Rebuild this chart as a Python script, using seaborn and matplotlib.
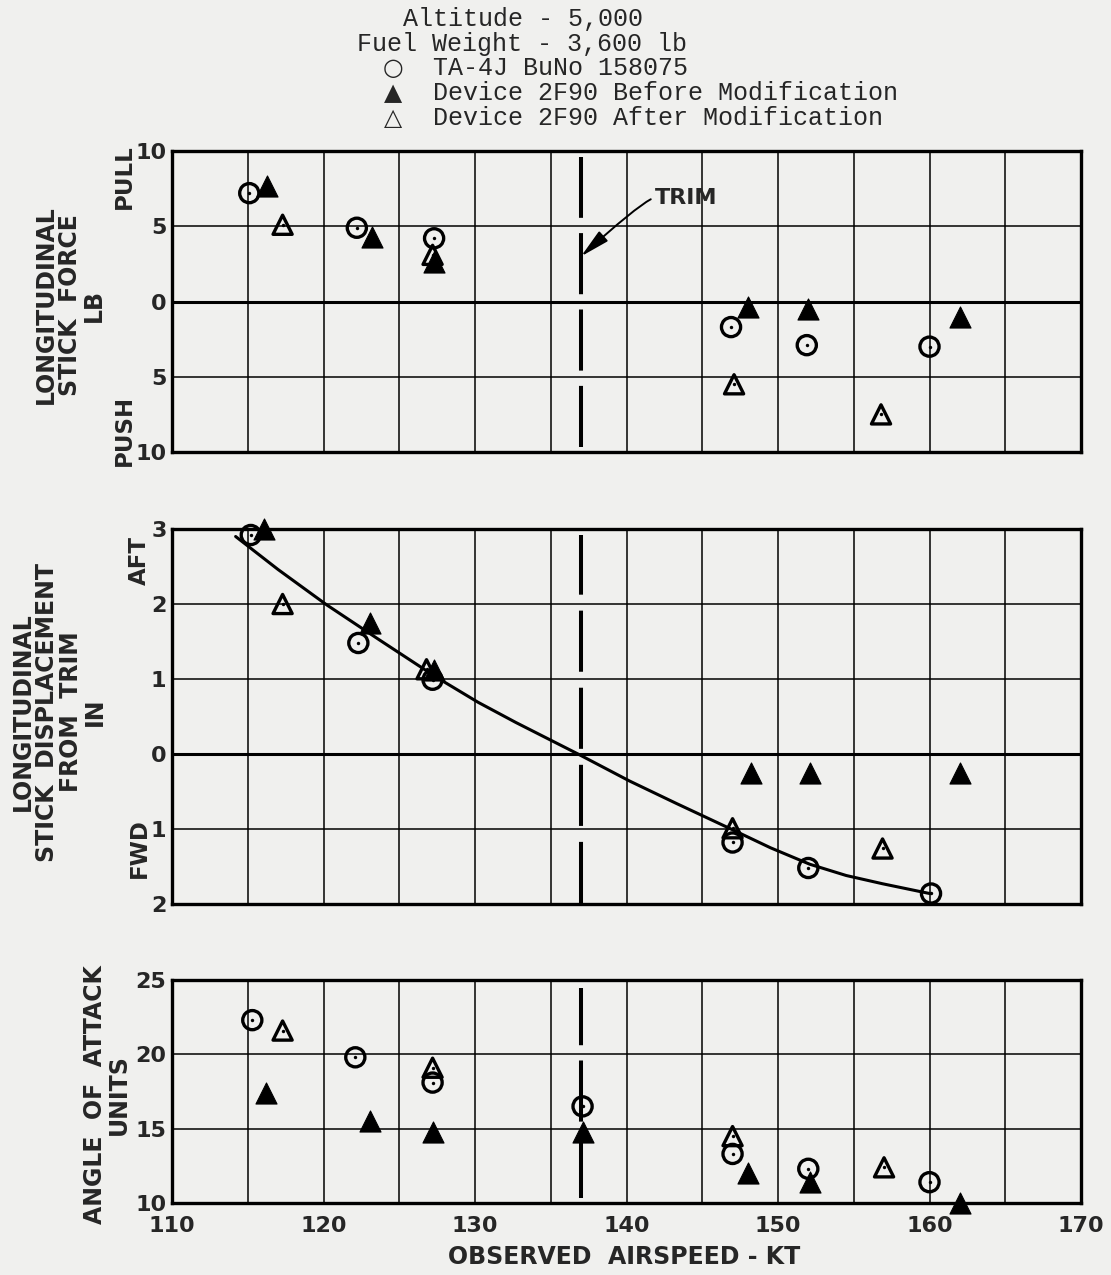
import numpy as np
import matplotlib
matplotlib.use("Agg")
import matplotlib.pyplot as plt
import seaborn as sns

# values (airspeed in kt)
# stick force, lb (+ pull, - push)
force_ta4j_kt = [115.1, 122.2, 127.3, 146.9, 151.9, 160.0]
force_ta4j = [7.2, 4.9, 4.2, -1.7, -2.9, -3.0]
force_before_kt = [116.3, 123.2, 127.3, 148.0, 152.0, 162.0]
force_before = [7.7, 4.3, 2.6, -0.35, -0.5, -1.0]
force_after_kt = [117.3, 127.2, 147.1, 156.8]
force_after = [5.1, 3.1, -5.5, -7.5]

# stick displacement from trim, in (+ aft, - fwd)
disp_ta4j_kt = [115.2, 122.3, 127.2, 147.0, 152.0, 160.1]
disp_ta4j = [2.92, 1.48, 0.99, -1.18, -1.52, -1.86]
disp_before_kt = [116.1, 123.1, 127.3, 148.2, 152.1, 162.0]
disp_before = [3.0, 1.74, 1.12, -0.26, -0.26, -0.26]
disp_after_kt = [117.3, 126.8, 147.0, 156.9]
disp_after = [2.0, 1.13, -0.99, -1.26]
# faired curve through the flight data
fair_kt = [114.2, 117.0, 120.2, 123.7, 127.4, 130.2, 132.7, 136.8, 140.2,
           143.3, 147.0, 149.5, 152.1, 154.5, 156.9, 160.0]
fair_in = [2.9, 2.46, 1.99, 1.52, 1.03, 0.69, 0.42, 0.0, -0.36,
           -0.66, -1.01, -1.25, -1.47, -1.62, -1.73, -1.86]

# angle of attack, units
aoa_ta4j_kt = [115.3, 122.1, 127.2, 137.1, 147.0, 152.0, 160.0]
aoa_ta4j = [22.3, 19.8, 18.1, 16.5, 13.3, 12.3, 11.4]
aoa_before_kt = [116.2, 123.1, 127.2, 137.1, 148.0, 152.1, 162.0]
aoa_before = [17.4, 15.5, 14.8, 14.8, 12.0, 11.4, 10.0]
aoa_after_kt = [117.3, 127.2, 147.0, 157.0]
aoa_after = [21.6, 19.1, 14.5, 12.4]

trim_kt = 137.0
x_ticks = list(range(110, 171, 5))
x_labels = [str(v) if v % 10 == 0 else "" for v in x_ticks]

sns.set_theme(style="white")
plt.rcParams["font.family"] = ["DejaVu Sans"]
plt.rcParams["lines.scale_dashes"] = False

paper = "#f0f0ee"
W, H = 1111, 1275
fig = plt.figure(figsize=(W / 100, H / 100), dpi=100, facecolor=paper)


def box(x0, y0, x1, y1):
    return [x0 / W, 1 - y1 / H, (x1 - x0) / W, (y1 - y0) / H]


def px(x, y):
    return x / W, 1 - y / H


ax_f = fig.add_axes(box(172, 151, 1081, 452))
ax_d = fig.add_axes(box(172, 529, 1081, 904))
ax_a = fig.add_axes(box(172, 980, 1081, 1203))


def draw_points(ax, kt, val, kind):
    if kind == "circle":
        sns.scatterplot(x=kt, y=val, marker="o", s=190, facecolors="none",
                        edgecolor="black", linewidth=2.4, ax=ax, zorder=5, clip_on=False)
    elif kind == "filled":
        sns.scatterplot(x=kt, y=val, marker="^", s=230, color="black",
                        edgecolor="black", linewidth=0.8, ax=ax, zorder=6, clip_on=False)
    else:
        sns.scatterplot(x=kt, y=val, marker="^", s=190, facecolors="none",
                        edgecolor="black", linewidth=2.4, ax=ax, zorder=5, clip_on=False)
    if kind != "filled":
        sns.scatterplot(x=kt, y=val, marker="o", s=6, color="black",
                        linewidth=0, ax=ax, zorder=7, clip_on=False)


for ax in (ax_f, ax_d, ax_a):
    ax.set_facecolor(paper)
    ax.set_xlim(110, 170)
    ax.set_xticks(x_ticks)
    ax.grid(True, color="black", lw=1.1)
    ax.tick_params(length=0, labelsize=16, pad=4)
    for sp in ax.spines.values():
        sp.set_color("black")
        sp.set_linewidth(2.4)
    ax.set_xlabel("")
    ax.set_ylabel("")

# top panel - stick force
ax_f.set_ylim(-10, 10)
ax_f.set_yticks([-10, -5, 0, 5, 10])
ax_f.set_yticklabels(["10", "5", "0", "5", "10"], fontweight="bold")
ax_f.set_xticklabels([])
ax_f.axhline(0, color="black", lw=2.2, zorder=2)
ax_f.axvline(trim_kt, ymin=5 / 301, ymax=295 / 301, color="black", lw=2.9,
             ls=(0, (44, 11)), zorder=3)
draw_points(ax_f, force_ta4j_kt, force_ta4j, "circle")
draw_points(ax_f, force_before_kt, force_before, "filled")
draw_points(ax_f, force_after_kt, force_after, "open")
ax_f.annotate("TRIM", xy=(trim_kt, 3.0), xytext=(141.9, 6.9), fontsize=16,
              fontweight="bold", ha="left", va="center",
              arrowprops=dict(arrowstyle="-|>,head_length=0.9,head_width=0.2",
                              mutation_scale=20, color="black", lw=1.4,
                              relpos=(0, 0.5), shrinkA=1, shrinkB=0,
                              connectionstyle="angle3,angleA=0,angleB=42"))

# middle panel - stick displacement
ax_d.set_ylim(-2, 3)
ax_d.set_yticks([-2, -1, 0, 1, 2, 3])
ax_d.set_yticklabels(["2", "1", "0", "1", "2", "3"], fontweight="bold")
ax_d.set_xticklabels([])
ax_d.axhline(0, color="black", lw=2.2, zorder=2)
ax_d.axvline(trim_kt, ymin=1 / 375, ymax=369 / 375, color="black", lw=2.9,
             ls=(0, (44, 11.5)), zorder=3)
sns.lineplot(x=fair_kt, y=fair_in, sort=False, estimator=None, color="black",
             lw=2.2, ax=ax_d, zorder=4)
draw_points(ax_d, disp_ta4j_kt, disp_ta4j, "circle")
draw_points(ax_d, disp_before_kt, disp_before, "filled")
draw_points(ax_d, disp_after_kt, disp_after, "open")

# bottom panel - angle of attack
ax_a.set_ylim(10, 25)
ax_a.set_yticks([10, 15, 20, 25])
ax_a.set_yticklabels(["10", "15", "20", "25"], fontweight="bold")
ax_a.set_xticklabels(x_labels, fontweight="bold")
ax_a.tick_params(axis="x", pad=9)
ax_a.axvline(trim_kt, ymin=5 / 223, ymax=215 / 223, color="black", lw=2.9,
             ls=(0, (44, 11)), zorder=3)
draw_points(ax_a, aoa_ta4j_kt, aoa_ta4j, "circle")
draw_points(ax_a, aoa_before_kt, aoa_before, "filled")
draw_points(ax_a, aoa_after_kt, aoa_after, "open")

# axis titles
lab = dict(rotation=90, ha="center", va="center", fontsize=17, fontweight="bold",
           multialignment="center", linespacing=1.0)
fig.text(*px(70, 305), "LONGITUDINAL\nSTICK  FORCE\nLB", **lab)
fig.text(*px(59, 712), "LONGITUDINAL\nSTICK  DISPLACEMENT\nFROM  TRIM\nIN", **lab)
fig.text(*px(107, 1095), "ANGLE  OF  ATTACK\nUNITS", **lab)
side = dict(rotation=90, ha="center", va="center", fontsize=16.5, fontweight="bold")
fig.text(*px(124, 177), "PULL", **side)
fig.text(*px(124, 430), "PUSH", **side)
fig.text(*px(139, 561), "AFT", **side)
fig.text(*px(139, 848), "FWD", **side)
fig.text(*px(624, 1257), "OBSERVED  AIRSPEED - KT", ha="center", va="center",
         fontsize=17, fontweight="bold")

# header / legend
mono = dict(family="Liberation Mono", fontsize=18, ha="left", va="center")
fig.text(*px(403, 19), "Altitude - 5,000", **mono)
fig.text(*px(357, 44), "Fuel Weight - 3,600 lb", **mono)
fig.text(*px(433, 68), "TA-4J BuNo 158075", **mono)
fig.text(*px(433, 93), "Device 2F90 Before Modification", **mono)
fig.text(*px(433, 118), "Device 2F90 After Modification", **mono)
sym = dict(family="DejaVu Sans", fontsize=17, ha="center", va="center")
fig.text(*px(393, 68), "\u25cb", **sym)
fig.text(*px(393, 93), "\u25b2", **sym)
fig.text(*px(393, 118), "\u25b3", **sym)

fig.savefig("out.png", dpi=100, facecolor=paper)
